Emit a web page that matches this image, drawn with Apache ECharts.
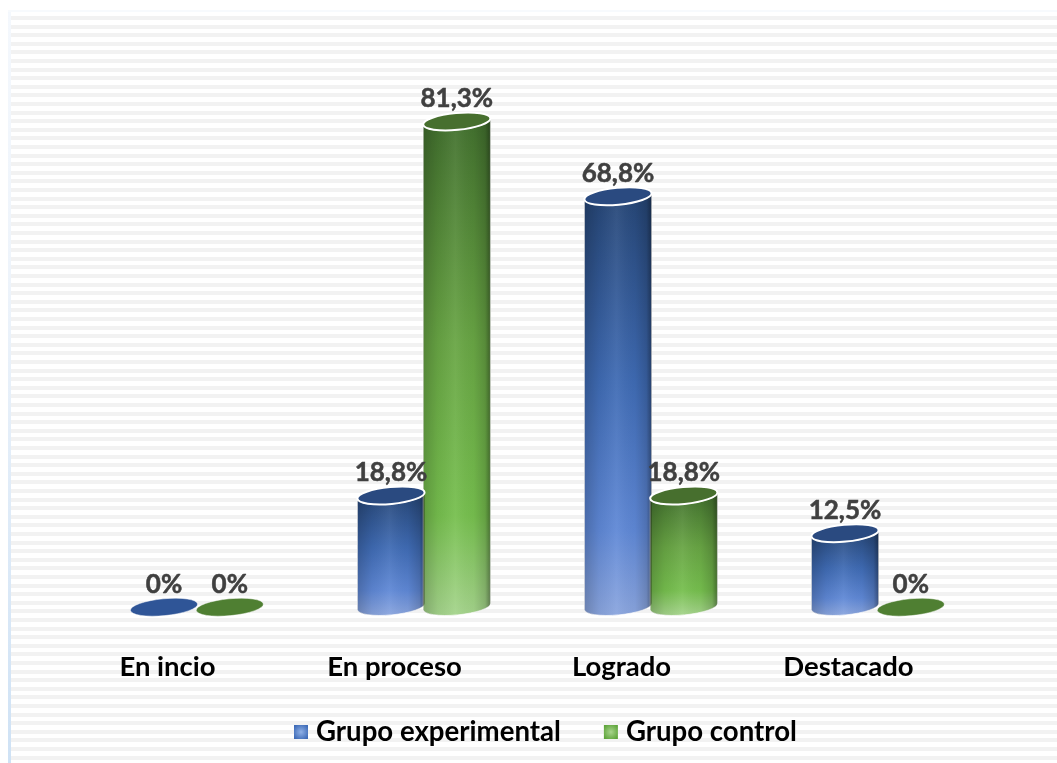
<!DOCTYPE html>
<html><head><meta charset="utf-8">
<script src="https://cdn.jsdelivr.net/npm/echarts@6/dist/echarts.min.js"></script>
<style>
html,body{margin:0;padding:0;background:#fff}
#stage{position:absolute;left:0;top:0;width:1057px;height:763px;overflow:hidden;background:#fff}
#frame{position:absolute;left:8px;top:10px;right:0;bottom:0;border-left:3px solid;border-image:linear-gradient(180deg,#f4f8fd 0,#eef4fb 35%,#cfe2f5 100%) 1;border-top:0}
#topline{position:absolute;left:8px;top:10px;right:0;height:2px;background:#f7fafd}
#stripes{position:absolute;left:11px;top:16px;right:0;bottom:0;
background:repeating-linear-gradient(180deg,#f2f2f2 0,#f2f2f2 4px,#fff 4px,#fff 8.6px)}
#c{position:absolute;left:0;top:0;width:1057px;height:763px}
</style></head><body>
<div id="stage"><div id="frame"></div><div id="topline"></div><div id="stripes"></div><div id="c"></div></div>
<script>
var categories = ['En incio', 'En proceso', 'Logrado', 'Destacado'];
var grupoExperimental = [0, 18.8, 68.8, 12.5];
var grupoControl = [0, 81.3, 18.8, 0];
var seriesNames = ['Grupo experimental', 'Grupo control'];
var FONT = 'Lato, "Open Sans", sans-serif';

var palettes = [
  {cap:'#2a4a80', flat:'#2f5597', stops:['#264676','#3f6bb4','#5f88d6','#8aa5de']},
  {cap:'#476f2e', flat:'#4f7f32', stops:['#42702e','#68a544','#76bf4e','#a5d48c']}
];
function fmt(v){ return String(v).replace('.', ',') + '%'; }
function side(pal){
  return {type:'linear',x:0,y:0,x2:0,y2:1,colorStops:[
    {offset:0,color:pal.stops[0]},{offset:.45,color:pal.stops[1]},
    {offset:.8,color:pal.stops[2]},{offset:1,color:pal.stops[3]}]};
}
function cylinder(si){
  var pal = palettes[si];
  return function(params, api){
    var i = api.value(0), v = api.value(1);
    var band = api.size([1,0])[0];
    var w = band*0.296, rx = w/2, ry = 8.4, tilt = 3.2;
    var cx = api.coord([i,0])[0] + (si===0 ? -33 : 32.8);
    var y0 = api.coord([i,0])[1] - 1.5, y1 = api.coord([i,v])[1];
    var capY = v > 0 ? y1 : y1 - 0.8;
    var L = cx-rx, R = cx+rx, rot = -Math.atan(2*tilt/w)*180/Math.PI;
    var capPath = 'M'+L+' '+(capY+tilt)+' A'+rx+' '+ry+' '+rot+' 1 1 '+R+' '+(capY-tilt)+
                  ' A'+rx+' '+ry+' '+rot+' 1 1 '+L+' '+(capY+tilt)+' Z';
    var children = [];
    if (v > 0) {
      var body = 'M'+L+' '+(y1+tilt)+' L'+L+' '+(y0+tilt)+' A'+rx+' '+ry+' '+rot+' 0 0 '+R+' '+(y0-tilt)+
                 ' L'+R+' '+(y1-tilt)+' A'+rx+' '+ry+' '+rot+' 0 1 '+L+' '+(y1+tilt)+' Z';
      children.push({type:'path',shape:{pathData:body},style:{fill:side(pal),stroke:'rgba(255,255,255,.75)',lineWidth:1},z2:1});
      children.push({type:'path',shape:{pathData:body},silent:true,style:{fill:{type:'linear',x:0,y:0,x2:1,y2:0,colorStops:[
        {offset:0,color:'rgba(0,0,0,.2)'},{offset:.22,color:'rgba(0,0,0,.05)'},{offset:.48,color:'rgba(255,255,255,.06)'},
        {offset:.75,color:'rgba(0,0,0,.03)'},{offset:.92,color:'rgba(0,0,0,.16)'},{offset:1,color:'rgba(0,0,0,.42)'}]}},z2:2});
      children.push({type:'path',shape:{pathData:capPath},style:{fill:pal.cap,stroke:'#fff',lineWidth:2},z2:3});
    } else {
      children.push({type:'path',shape:{pathData:capPath},style:{fill:pal.flat,stroke:'rgba(255,255,255,.6)',lineWidth:.8},z2:3});
    }
    children.push({type:'text',z2:20,style:{text:fmt(v),x:cx,y:y1-23,align:'center',verticalAlign:'middle',
      font:'bold 26px '+FONT,fill:'#404040',stroke:'#404040',lineWidth:.5}});
    return {type:'group',children:children};
  };
}
function radial(c0,c1){ return {type:'radial',x:.5,y:.5,r:.6,colorStops:[{offset:0,color:c0},{offset:1,color:c1}]}; }
var chart = echarts.init(document.getElementById('c'), null, {renderer:'canvas'});
chart.setOption({
  animation:false,
  backgroundColor:'transparent',
  grid:{left:83.5,width:908,top:69.4,height:538.6},
  legend:{bottom:12,left:289,itemWidth:14,itemHeight:14,itemGap:43,
    textStyle:{fontFamily:FONT,fontWeight:'bold',fontSize:27.6,color:'#000',padding:[0,0,0,3]},
    data:[
     {name:seriesNames[0],icon:'rect',itemStyle:{color:radial('#8fb0e6','#3f6cb8')}},
     {name:seriesNames[1],icon:'rect',itemStyle:{color:radial('#a8d48c','#5fa53c')}}]},
  xAxis:{type:'category',data:categories,axisLine:{show:false},axisTick:{show:false},
    axisLabel:{margin:45,color:'#000',fontFamily:FONT,fontWeight:'bold',fontSize:27.5,padding:[0,59,0,0]}},
  yAxis:{type:'value',min:0,max:90,interval:10,show:false,splitLine:{show:false}},
  series:[
    {name:seriesNames[0],type:'custom',clip:false,itemStyle:{color:'#3f6cb8'},renderItem:cylinder(0),
     encode:{x:0,y:1},data:grupoExperimental.map(function(v,i){return [i,v];})},
    {name:seriesNames[1],type:'custom',clip:false,itemStyle:{color:'#5fa53c'},renderItem:cylinder(1),
     encode:{x:0,y:1},data:grupoControl.map(function(v,i){return [i,v];})}
  ]
});
</script></body></html>
